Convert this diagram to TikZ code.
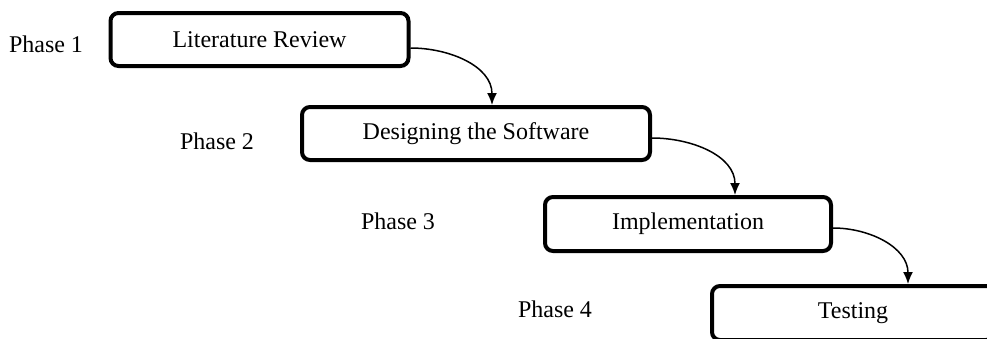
\documentclass[tikz,border=0pt]{standalone}
\usepackage{fontspec}
\setmainfont{Liberation Serif}
\usetikzlibrary{arrows.meta}
\begin{document}
\begin{tikzpicture}[x=0.5pt,y=-0.5pt,
  phasebox/.style={draw=black, line width=2pt, rounded corners=4pt, fill=white,
    inner sep=0pt, font=\fontsize{12}{14}\selectfont},
  phaselabel/.style={inner sep=0pt, font=\fontsize{12}{14}\selectfont},
  flow/.style={line width=0.75pt, -{Latex[length=6pt,width=5pt]}}]
\useasboundingbox (0,0) rectangle (987,338);
\clip (0,0) rectangle (987,338);
\node[phasebox, minimum width=149pt, minimum height=26.5pt] (b1) at (259.5,39.5) {Literature Review};
\node[phasebox, minimum width=174pt, minimum height=26.5pt] (b2) at (476,133.5) {Designing the Software};
\node[phasebox, minimum width=143pt, minimum height=27pt] (b3) at (688,224) {Implementation};
\node[phasebox, minimum width=141pt, minimum height=27pt] (b4) at (853,313) {Testing};
\node[phaselabel] (p1) at (46,44) {Phase 1};
\node[phaselabel] (p2) at (217,141) {Phase 2};
\node[phaselabel] (p3) at (398,221) {Phase 3};
\node[phaselabel] (p4) at (555,309) {Phase 4};
\draw[flow] ([yshift=-4.25pt]b1.east) to[out=0,in=90] ([xshift=8pt]b2.north);
\draw[flow] ([yshift=-2.25pt]b2.east) to[out=0,in=90] ([xshift=23.5pt]b3.north);
\draw[flow] ([yshift=-2pt]b3.east) to[out=0,in=90] ([xshift=27.5pt]b4.north);
\end{tikzpicture}
\end{document}
